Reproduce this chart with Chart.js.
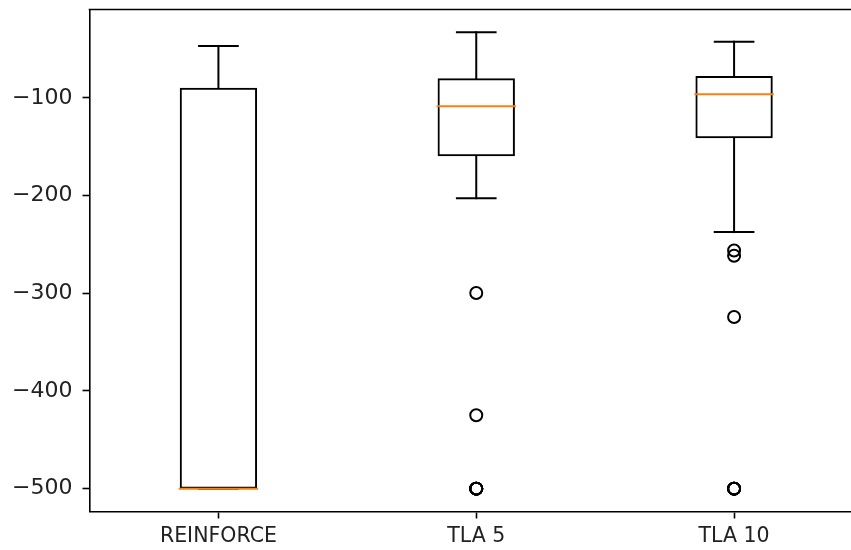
<!DOCTYPE html>
<html>
<head>
<meta charset="utf-8">
<script src="https://cdn.jsdelivr.net/npm/chart.js@4.4.0/dist/chart.umd.min.js"></script>
<style>
  html, body { margin: 0; padding: 0; background: #fff; overflow: hidden; }
  #wrap { position: absolute; left: 0; top: 0; width: 871px; height: 550px; }
</style>
</head>
<body>
<div id="wrap"><canvas id="box-chart"></canvas></div>
<script>
// Returns per method (five-number summary + fliers)
const labels = ['REINFORCE', 'TLA 5', 'TLA 10'];
const whiskerHigh = [-46.8, -32.8, -42.4];
const upperQuartile = [-89.5, -79.9, -77.5];
const medians = [-500, -108.5, -96.2];
const lowerQuartile = [-500, -159.6, -141.2];
const whiskerLow = [-500, -202.6, -237.3];
const fliers = [
  [],
  [-299.7, -424.8, -500, -500, -500, -500, -500, -500],
  [-256.1, -261.6, -324.2, -500, -500, -500, -500, -500, -500]
];
const yTicks = [-500, -400, -300, -200, -100];

const BOX_WIDTH = 0.3;   // share of one category

const segment = (ctx, x1, y1, x2, y2) => {
  ctx.beginPath();
  ctx.moveTo(x1, y1);
  ctx.lineTo(x2, y2);
  ctx.stroke();
};

// whiskers, caps and medians on top of the boxes, plus the top/right frame
const boxExtras = {
  id: 'boxExtras',
  afterDatasetsDraw(chart) {
    const { ctx, chartArea, scales: { x, y } } = chart;
    const step = x.getPixelForValue(1) - x.getPixelForValue(0);
    const boxHalf = step * BOX_WIDTH / 2;
    const capHalf = boxHalf / 2;

    ctx.save();
    ctx.lineWidth = 2;
    labels.forEach((label, i) => {
      const cx = x.getPixelForValue(i);
      const pHigh = y.getPixelForValue(whiskerHigh[i]);
      const pQ3 = y.getPixelForValue(upperQuartile[i]);
      const pQ1 = y.getPixelForValue(lowerQuartile[i]);
      const pLow = y.getPixelForValue(whiskerLow[i]);

      ctx.strokeStyle = '#000';
      ctx.lineCap = 'square';
      if (pHigh !== pQ3) segment(ctx, cx, pQ3, cx, pHigh);
      if (pLow !== pQ1) segment(ctx, cx, pQ1, cx, pLow);
      segment(ctx, cx - capHalf, pHigh, cx + capHalf, pHigh);
      segment(ctx, cx - capHalf, pLow, cx + capHalf, pLow);

      ctx.strokeStyle = '#ff7f0e';
      ctx.lineCap = 'butt';
      const pMed = y.getPixelForValue(medians[i]);
      segment(ctx, cx - boxHalf - 1, pMed, cx + boxHalf + 1, pMed);
    });

    ctx.strokeStyle = '#000';
    ctx.lineWidth = 1.6;
    ctx.lineCap = 'square';
    segment(ctx, chartArea.left, chartArea.top, chartArea.right, chartArea.top);
    segment(ctx, chartArea.right, chartArea.top, chartArea.right, chartArea.bottom);
    ctx.restore();
  }
};

const flierPoints = fliers.flatMap((vals, i) => vals.map(v => ({ x: labels[i], y: v })));

const config = {
  type: 'bar',
  data: {
    labels: labels,
    datasets: [
      {
        type: 'bar',
        data: labels.map((_, i) => [lowerQuartile[i], upperQuartile[i]]),
        backgroundColor: 'rgba(0,0,0,0)',
        borderColor: '#000',
        borderWidth: 2,
        borderSkipped: false,
        barPercentage: BOX_WIDTH,
        categoryPercentage: 1
      },
      {
        type: 'scatter',
        data: flierPoints,
        pointStyle: 'circle',
        pointRadius: 6,
        pointBorderWidth: 2,
        pointBorderColor: '#000',
        pointBackgroundColor: 'rgba(0,0,0,0)'
      }
    ]
  },
  options: {
    responsive: true,
    maintainAspectRatio: false,
    animation: false,
    layout: { padding: { top: 9.5, right: 2.5, left: 0, bottom: 0 } },
    plugins: { legend: { display: false }, tooltip: { enabled: false } },
    scales: {
      x: {
        type: 'category',
        offset: true,
        afterFit: s => { s.height = 38.5; s.paddingLeft = 0; s.paddingRight = 0; },
        grid: { display: true, offset: false, drawOnChartArea: false, tickLength: 7, tickWidth: 1.6, tickColor: '#000' },
        border: { display: true, color: '#000', width: 1.6 },
        ticks: { color: '#222', font: { family: 'DejaVu Sans', size: 20.5 }, padding: 6, maxRotation: 0 }
      },
      y: {
        min: -523.4,
        max: -9.4,
        afterBuildTicks: s => { s.ticks = yTicks.map(v => ({ value: v })); },
        afterFit: s => { s.width = 89.5; s.paddingTop = 0; s.paddingBottom = 0; },
        grid: { display: true, drawOnChartArea: false, tickLength: 7, tickWidth: 1.6, tickColor: '#000' },
        border: { display: true, color: '#000', width: 1.6 },
        ticks: {
          color: '#222',
          font: { family: 'DejaVu Sans', size: 22 },
          padding: 10,
          callback: v => String(v).replace('-', '\u2212')
        }
      }
    }
  },
  plugins: [boxExtras]
};

new Chart(document.querySelector('#box-chart'), config);
</script>
</body>
</html>
